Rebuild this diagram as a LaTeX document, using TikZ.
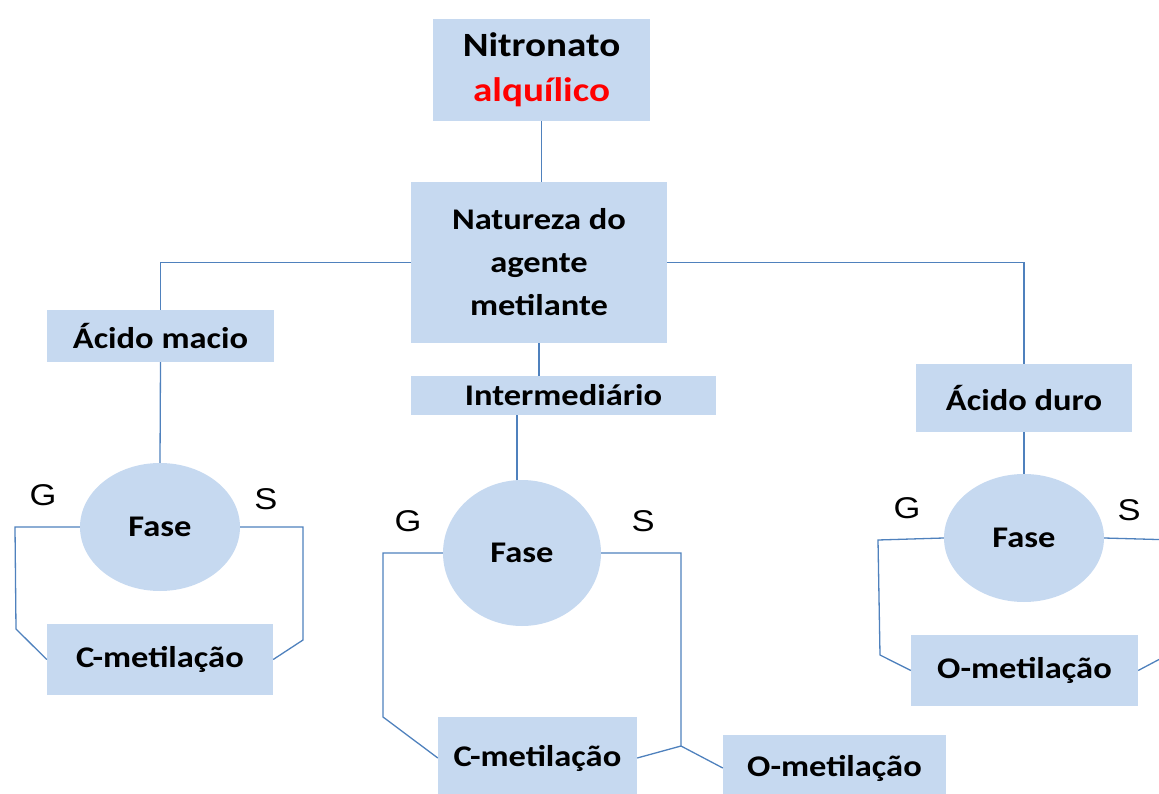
\documentclass[tikz,border=0pt]{standalone}
\usepackage{fontspec}
\usepackage{graphicx}
\usetikzlibrary{shapes.geometric}
\newfontfamily\calfont{Carlito}
\newfontfamily\arialfont{Liberation Sans}
\newcommand{\sx}[1]{\scalebox{1.15}[1]{#1}}
\definecolor{boxfill}{RGB}{198,217,240}
\definecolor{linec}{RGB}{79,129,189}
\definecolor{redtxt}{RGB}{255,0,0}
\begin{document}
\begin{tikzpicture}[x=1pt,y=-1pt,
  box/.style={rectangle, fill=boxfill, draw=none, inner sep=0pt, align=center,
    font=\calfont\bfseries\fontsize{30}{43}\selectfont},
  fase/.style={ellipse, fill=boxfill, draw=none, inner sep=0pt,
    font=\calfont\bfseries\fontsize{30}{36}\selectfont},
  lbl/.style={inner sep=0pt, font=\arialfont\fontsize{30}{34}\selectfont},
  conn/.style={draw=linec, line width=1.3pt}]
\useasboundingbox (0,0) rectangle (1159,794);
\clip (0,0) rectangle (1159,794);
% nodes
\node[box, minimum width=217, minimum height=102, font=\calfont\bfseries\fontsize{34}{45}\selectfont] (nit) at (541.5,70) {\sx{Nitronato}\\\sx{\color{redtxt}alquílico}};
\node[box, minimum width=256, minimum height=161] (nat) at (539,262.5) {\sx{Natureza do}\\\sx{agente}\\\sx{metilante}};
\node[box, minimum width=227, minimum height=52] (am) at (160.5,336) {\sx{Ácido macio}};
\node[box, minimum width=305, minimum height=39] (im) at (563.5,395.5) {\sx{Intermediário}};
\node[box, minimum width=216, minimum height=68] (ad) at (1024,398) {\sx{Ácido duro}};
\node[fase, minimum width=160, minimum height=128] (fL) at (160,527) {\sx{Fase}};
\node[fase, minimum width=158, minimum height=146] (fM) at (522,553) {\sx{Fase}};
\node[fase, minimum width=160, minimum height=128] (fR) at (1024,538) {\sx{Fase}};
\node[box, minimum width=226, minimum height=71] (cmL) at (160,659.5) {\sx{C-metilação}};
\node[box, minimum width=199, minimum height=82] (cmM) at (537.5,758) {\sx{C-metilação}};
\node[box, minimum width=223, minimum height=66] (omM) at (834.5,768) {\sx{O-metilação}};
\node[box, minimum width=227, minimum height=71] (omR) at (1024.5,670.5) {\sx{O-metilação}};
% labels
\node[lbl] (gL) at (43,495) {\sx{G}};
\node[lbl] (sL) at (266,499) {\sx{S}};
\node[lbl] (gM) at (408,521) {\sx{G}};
\node[lbl] (sM) at (643,521) {\sx{S}};
\node[lbl] (gR) at (907,508) {\sx{G}};
\node[lbl] (sR) at (1129,510) {\sx{S}};
% coordinates
\coordinate (gL1) at (15,527);
\coordinate (gL2) at (16,629);
\coordinate (sL1) at (303,527);
\coordinate (sL2) at (303,640);
\coordinate (gM1) at (383,553);
\coordinate (gM2) at (383,717);
\coordinate (sM1) at (681,553);
\coordinate (sM2) at (681,746);
\coordinate (gR1) at (878,540);
\coordinate (gR2) at (880,655);
\coordinate (sR1) at (1175,540);
\coordinate (sR2) at (1175,651);
% connectors
\draw[conn] (nit.south) -- (nit.south |- nat.north);
\draw[conn] (nat.west) -| (am.north);
\draw[conn] (nat.east) -| (ad.north);
\draw[conn] (nat.south) -- (nat.south |- im.north);
\draw[conn] (am.south) -- (fL.north);
\draw[conn] (im.south -| 517,0) -- (517,480);
\draw[conn] (ad.south) -- (fR.north);
\draw[conn] (fL.west) -- (gL1) -- (gL2) -- (cmL.west);
\draw[conn] (fL.east) -- (sL1) -- (sL2) -- (cmL.east);
\draw[conn] (fM.west) -- (gM1) -- (gM2) -- (cmM.west);
\draw[conn] (fM.east) -- (sM1) -- (sM2) -- (cmM.east);
\draw[conn] (sM2) -- (omM.west);
\draw[conn] (fR.west) -- (gR1) -- (gR2) -- (omR.west);
\draw[conn] (fR.east) -- (sR1);
\draw[conn] (omR.east) -- (sR2);
\end{tikzpicture}
\end{document}
